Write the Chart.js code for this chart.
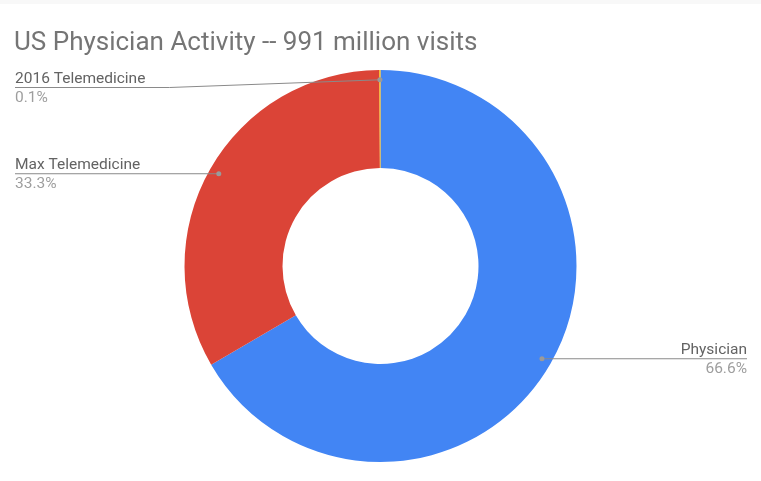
<!DOCTYPE html>
<html>
<head>
<meta charset="utf-8">
<script src="https://cdn.jsdelivr.net/npm/chart.js@4"></script>
<style>
  html, body { margin: 0; padding: 0; background: #ffffff; }
  #wrap { position: relative; width: 761px; height: 481px; overflow: hidden; }
  #topbar { position: absolute; left: 0; top: 0; width: 761px; height: 4px; background: #f8f8f8; }
  canvas { position: absolute; left: 0; top: 0; }
</style>
</head>
<body>
<div id="wrap">
  <canvas id="c" width="761" height="481"></canvas>
  <div id="topbar"></div>
</div>
<script>
const chartTitle = 'US Physician Activity -- 991 million visits';
const categories = ['Physician', 'Max Telemedicine', '2016 Telemedicine'];
const shares = [66.6, 33.3, 0.1];
const sliceColors = ['#4285F4', '#DB4437', '#F4B400'];

// Title plus outside labels with leader lines and anchor dots
const sliceLabels = {
  id: 'sliceLabels',
  afterDraw(chart) {
    const ctx = chart.ctx;
    ctx.save();
    ctx.textBaseline = 'alphabetic';
    ctx.textAlign = 'left';
    ctx.font = '26px Roboto';
    ctx.fillStyle = '#757575';
    ctx.fillText(chartTitle, 14, 49.5);

    const meta = chart.getDatasetMeta(0);
    const leftX = 15, rightX = 747, minLineY = 87.5;
    meta.data.forEach((arc, i) => {
      const p = arc.getProps(['x', 'y', 'startAngle', 'endAngle', 'outerRadius'], true);
      const mid = (p.startAngle + p.endAngle) / 2;
      const r = p.outerRadius * 0.95;
      const ax = p.x + Math.cos(mid) * r;
      const ay = p.y + Math.sin(mid) * r;
      const name = chart.data.labels[i];
      const pct = shares[i].toFixed(1) + '%';
      const onRight = Math.cos(mid) > 0;

      ctx.font = '15.5px Roboto';
      const nameW = ctx.measureText(name).width;
      ctx.strokeStyle = '#8a8a8a';
      ctx.lineWidth = 1;
      ctx.beginPath();
      let lineY;
      if (onRight) {
        lineY = ay;
        ctx.moveTo(ax, lineY);
        ctx.lineTo(rightX, lineY);
      } else {
        lineY = Math.max(ay, minLineY);
        ctx.moveTo(leftX, lineY);
        if (lineY !== ay) {
          ctx.lineTo(leftX + nameW + 24, lineY);
        }
        ctx.lineTo(ax, ay);
      }
      ctx.stroke();

      ctx.fillStyle = '#9a9a9a';
      ctx.beginPath();
      ctx.arc(ax, ay, 2.5, 0, Math.PI * 2);
      ctx.fill();

      ctx.textAlign = onRight ? 'right' : 'left';
      const tx = onRight ? rightX : leftX;
      ctx.fillStyle = '#636363';
      ctx.fillText(name, tx, lineY - 4.3);
      ctx.fillStyle = '#9e9e9e';
      ctx.fillText(pct, tx, lineY + 14.3);
    });
    ctx.restore();
  }
};

function draw() {
  new Chart(document.getElementById('c'), {
    type: 'doughnut',
    data: {
      labels: categories,
      datasets: [{
        data: shares,
        backgroundColor: sliceColors,
        borderWidth: 0,
        hoverOffset: 0
      }]
    },
    options: {
      responsive: false,
      animation: false,
      events: [],
      cutout: '50%',
      layout: { padding: { top: 70, bottom: 19, left: 0, right: 0 } },
      plugins: {
        legend: { display: false },
        tooltip: { enabled: false },
        title: { display: false }
      }
    },
    plugins: [sliceLabels]
  });
}

if (document.fonts && document.fonts.load) {
  Promise.all([document.fonts.load('26px Roboto'), document.fonts.load('15.5px Roboto')])
    .then(draw, draw);
} else {
  draw();
}
</script>
</body>
</html>
